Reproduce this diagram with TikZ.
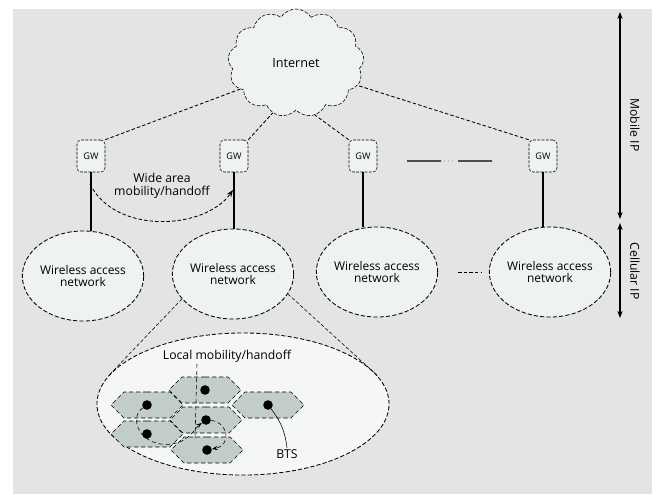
\documentclass[tikz,border=0pt]{standalone}
\usepackage{fontspec}
\setmainfont{Open Sans}
\usetikzlibrary{arrows.meta,shapes.geometric,shapes.symbols,positioning,calc}

\definecolor{bggray}{HTML}{E4E4E4}
\definecolor{wanfill}{HTML}{EEF2F1}
\definecolor{hexfill}{HTML}{C3CDC8}

\begin{document}
\begin{tikzpicture}[x=0.025cm, y=-0.025cm,
    inet/.style={cloud, cloud puffs=13, cloud puff arc=115, draw, dash pattern=on 2.5pt off 1.2pt, fill=wanfill, minimum width=3.4cm, minimum height=2.7cm, inner sep=0pt, font=\fontsize{9}{10}\selectfont},
    gw/.style={draw, dash pattern=on 2pt off 1pt, rounded corners=3pt, fill=wanfill, minimum width=0.7cm, minimum height=0.8cm, inner sep=0pt, font=\fontsize{6.5}{7}\selectfont},
    wan/.style={ellipse, draw, dash pattern=on 3pt off 1.5pt, line width=0.6pt, fill=wanfill, minimum width=3cm, minimum height=2.25cm, inner sep=0pt, align=center, font=\fontsize{8.5}{9}\selectfont},
    cellarea/.style={ellipse, draw, dash pattern=on 3pt off 1.5pt, line width=0.6pt, fill=wanfill!60!white, minimum width=7.3cm, minimum height=3.55cm},
    hexcell/.style={signal, signal to=east and west, draw, densely dashed, fill=hexfill, minimum width=1.8cm, minimum height=0.65cm, inner sep=0pt},
    bts/.style={circle, fill=black, minimum size=0.24cm, inner sep=0pt},
    lbl/.style={font=\fontsize{8.7}{9.5}\selectfont, align=center, inner sep=1pt},
    lnk/.style={dash pattern=on 2.5pt off 1.5pt, line width=0.6pt},
    tie/.style={line width=1pt},
    arr/.style={{Stealth[length=5pt]}-{Stealth[length=5pt]}, thick}
]
\useasboundingbox (0,0) rectangle (658,494);
\fill[white] (0,0) rectangle (658,494);
\fill[bggray] (13,9) rectangle (652,494);

% core network and gateways
\node[inet] (inet) at (296,63) {Internet};
\node[gw] (gw1) at (91,156) {GW};
\node[gw] (gw2) at (234,156) {GW};
\node[gw] (gw3) at (363,156) {GW};
\node[gw] (gw4) at (543,156) {GW};

\draw[lnk] (gw1.north east) -- (inet.205);
\draw[lnk] (gw2.north east) -- (inet.245);
\draw[lnk] (gw3.north west) -- (inet.290);
\draw[lnk] (gw4.north west) -- (inet.340);

\coordinate (dl1) at (407,161);
\coordinate (dl2) at (492,161);
\draw[tie] (dl1) -- ($(dl1)!0.4!(dl2)$);
\draw[tie, dotted, gray!50] ($(dl1)!0.43!(dl2)$) -- ($(dl1)!0.57!(dl2)$);
\draw[tie] ($(dl1)!0.6!(dl2)$) -- (dl2);

% access networks
\node[wan] (wan1) at (83,276) {Wireless access\\network};
\node[wan] (wan2) at (233,274) {Wireless access\\network};
\node[wan] (wan3) at (377,272) {Wireless access\\network};
\node[wan] (wan4) at (550,272) {Wireless access\\network};

\draw[tie] (gw1.south) -- (gw1.south |- wan1.north);
\draw[tie] (gw2.south) -- (gw2.south |- wan2.north);
\draw[tie] (gw3.south) -- (gw3.south |- wan3.north);
\draw[tie] (gw4.south) -- (gw4.south |- wan4.north);
\draw[lnk, shorten <=0.5cm, shorten >=0.2cm] (wan3.east) -- (wan4.west);

% wide area handoff
\coordinate (wa1) at (90,184);
\coordinate (wa2) at (233,190);
\draw[lnk, -{Stealth[length=5pt]}] (wa1) .. controls (115,235) and (205,230) .. (wa2);
\node[lbl] (wide) at (162,186) {Wide area\\mobility/handoff};

% zoom on one access network
\node[cellarea] (cell) at (243,404) {};
\draw[lnk, thin] (wan2.206) -- (cell.168);
\draw[lnk, thin] (wan2.-20) -- (cell.12);

\node[hexcell] (hA) at (205,390) {};
\node[hexcell] (hB) at (147,405) {};
\node[hexcell] (hC) at (268,405) {};
\node[hexcell] (hD) at (206,420) {};
\node[hexcell] (hE) at (147,434) {};
\node[hexcell] (hF) at (207,450) {};
\foreach \h in {A,B,C,D,E,F}
    \node[bts] (b\h) at (h\h) {};

\node[lbl] (lmh) at (227,356) {Local mobility/handoff};
\node[lbl] (btsl) at (287,454) {BTS};
\coordinate (lp) at (195,440);
\draw[densely dashed] ($(lmh.south)+(-30,0)$) -- (lp);
\draw[densely dashed, -{Stealth[length=4pt]}] (bB) .. controls (128,418) and (140,448) .. (172,444) .. controls (190,441) and (195,428) .. (bD);
\draw[densely dashed, -{Stealth[length=4pt]}] (bD) .. controls (228,422) and (232,445) .. (bF);
\draw (bC) to[bend left=15] (btsl.north);

% protocol scopes
\coordinate (ma1) at (620,12);
\coordinate (ma2) at (620,219);
\coordinate (ca1) at (620,223);
\coordinate (ca2) at (620,318);
\draw[arr] (ma1) -- (ma2);
\draw[arr] (ca1) -- (ca2);
\node[lbl, rotate=-90] (mip) at (635,125) {Mobile IP};
\node[lbl, rotate=-90] (cip) at (635,271) {Cellular IP};
\end{tikzpicture}
\end{document}
